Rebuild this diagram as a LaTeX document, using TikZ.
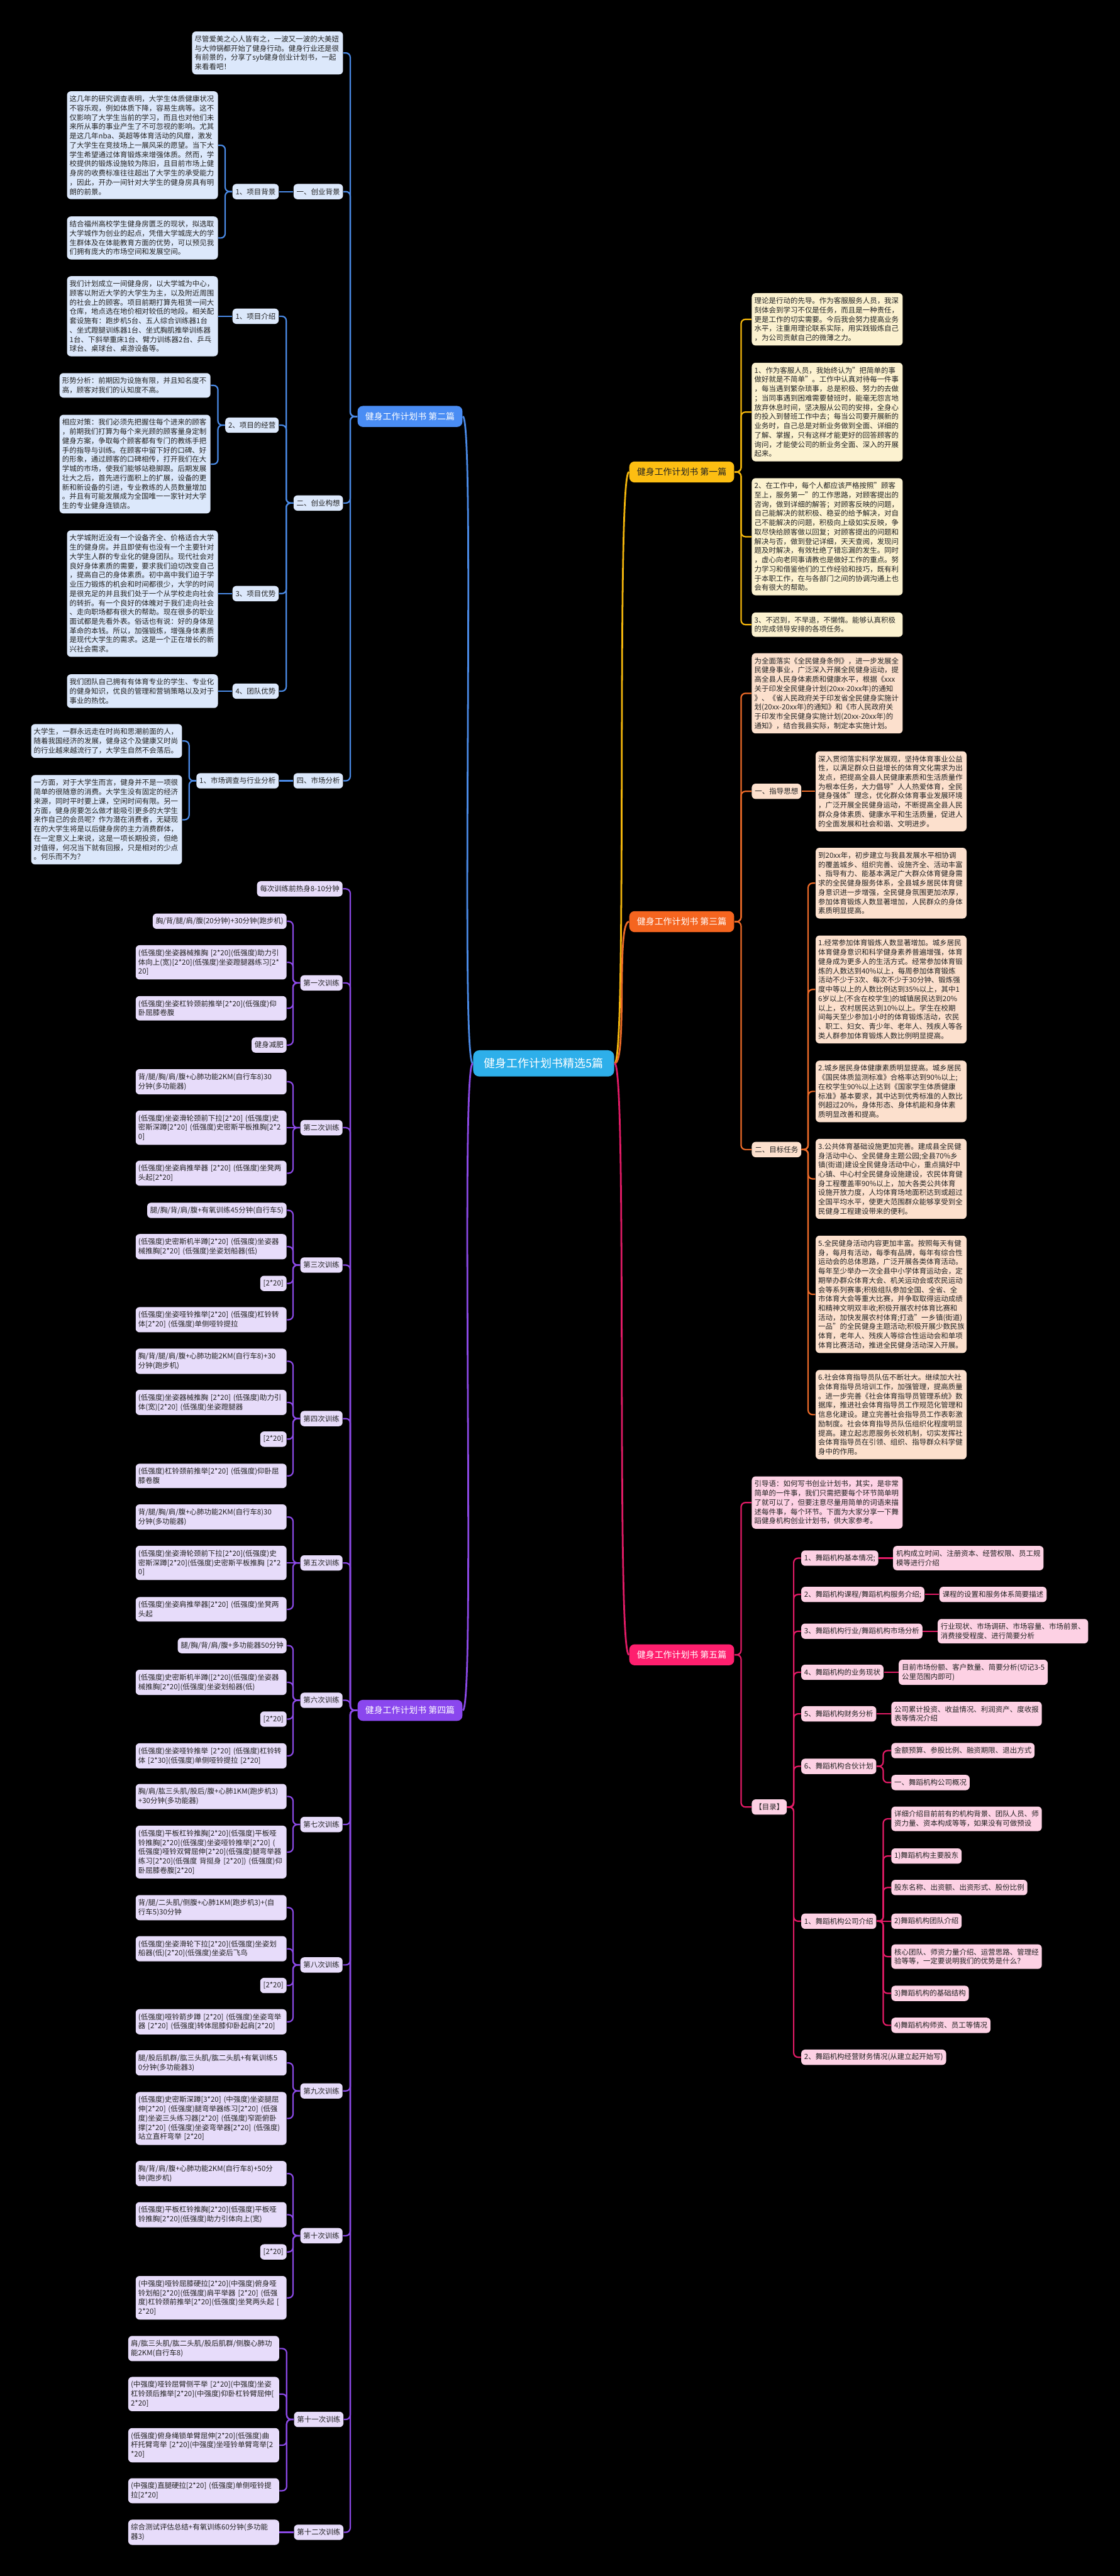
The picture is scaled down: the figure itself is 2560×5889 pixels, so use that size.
\documentclass[tikz,border=0pt]{standalone}
\usepackage{fontspec}
\setmainfont{Noto Sans CJK SC}
\usetikzlibrary{calc}
\definecolor{cenC}{HTML}{2EAFEA}
\definecolor{bRoot}{HTML}{4A8DF4}
\definecolor{bLine}{HTML}{4A8AE6}
\definecolor{bFill}{HTML}{DCE8FB}
\definecolor{yRoot}{HTML}{FDBE12}
\definecolor{yLine}{HTML}{F2B50C}
\definecolor{yFill}{HTML}{FCF2D0}
\definecolor{oRoot}{HTML}{F5651F}
\definecolor{oLine}{HTML}{EC6A28}
\definecolor{oFill}{HTML}{FCE0CD}
\definecolor{pRoot}{HTML}{FF1F6E}
\definecolor{pLine}{HTML}{E21B66}
\definecolor{pFill}{HTML}{FDD1E4}
\definecolor{uRoot}{HTML}{8A47EE}
\definecolor{uLine}{HTML}{8B49E6}
\definecolor{uFill}{HTML}{E7DCFA}
\definecolor{txtc}{HTML}{222222}
\newcommand{\conL}[3]{\draw[#1] (#2.west) -- ++(-16,0) |- (#3.east);}
\newcommand{\conR}[3]{\draw[#1] (#2.east) -- ++(15,0) |- (#3.west);}
\tikzset{
  txtbase/.style={rounded corners=2.2pt, inner xsep=1.5pt, inner ysep=2.4pt,
    font=\fontsize{4.125pt}{5.3pt}\selectfont, text=txtc, align=left},
  bodyB/.style={txtbase, fill=bFill, text width=83.25pt},
  bodyY/.style={txtbase, fill=yFill, text width=83.25pt},
  bodyO/.style={txtbase, fill=oFill, text width=83.25pt},
  bodyP/.style={txtbase, fill=pFill, text width=83.25pt},
  bodyU/.style={txtbase, fill=uFill, text width=83.25pt},
  labB/.style={txtbase, fill=bFill, minimum height=8.75pt, inner xsep=1.75pt, inner ysep=1pt},
  labO/.style={txtbase, fill=oFill, minimum height=8.75pt, inner xsep=1.75pt, inner ysep=1pt},
  labP/.style={txtbase, fill=pFill, minimum height=8.75pt, inner xsep=1.75pt, inner ysep=1pt},
  labU/.style={txtbase, fill=uFill, minimum height=8.75pt, inner xsep=1.75pt, inner ysep=1pt},
  boxP/.style={txtbase, fill=pFill, inner xsep=1.75pt},
  rootN/.style={rounded corners=3pt, inner xsep=4.4pt, minimum height=12pt,
    font=\fontsize{5pt}{6pt}\selectfont},
  cen/.style={rounded corners=3.5pt, fill=cenC, text=white, inner xsep=6pt,
    minimum height=15pt, font=\fontsize{6.5pt}{7.5pt}\selectfont},
  ln/.style={line width=0.8pt, rounded corners=2.5pt},
  lnB/.style={ln, draw=bLine}, lnY/.style={ln, draw=yLine}, lnO/.style={ln, draw=oLine},
  lnP/.style={ln, draw=pLine}, lnU/.style={ln, draw=uLine},
  mainC/.style={line width=1pt}
}
\begin{document}
\begin{tikzpicture}[x=0.25pt,y=-0.25pt]
\useasboundingbox (0,0) rectangle (2560,5889);
\fill[black] (0,0) rectangle (2560,5889);

% ---------------- centre and branch roots
\node[cen] (c) at (1243,2431) {健身工作计划书精选5篇};
\node[rootN, fill=yRoot, text=txtc, anchor=west] (r1) at (1438,1079) {健身工作计划书 第一篇};
\node[rootN, fill=bRoot, text=white, anchor=east] (r2) at (1058,952) {健身工作计划书 第二篇};
\node[rootN, fill=oRoot, text=white, anchor=west] (r3) at (1438,2107) {健身工作计划书 第三篇};
\node[rootN, fill=uRoot, text=white, anchor=east] (r4) at (1058,3910) {健身工作计划书 第四篇};
\node[rootN, fill=pRoot, text=white, anchor=west] (r5) at (1438,3783) {健身工作计划书 第五篇};

\draw[mainC, draw=yLine] (c.east) .. controls +(30,0) and +(-30,0) .. (r1.west);
\draw[mainC, draw=oLine] (c.east) .. controls +(30,0) and +(-30,0) .. (r3.west);
\draw[mainC, draw=pLine] (c.east) .. controls +(30,0) and +(-30,0) .. (r5.west);
\draw[mainC, draw=bLine] (c.west) .. controls +(-30,0) and +(30,0) .. (r2.east);
\draw[mainC, draw=uLine] (c.west) .. controls +(-30,0) and +(30,0) .. (r4.east);

% ---------------- branch 2 (blue)
\node[bodyB, anchor=east] (b2i) at (785,121) {尽管爱美之心人皆有之，一波又一波的大美妞\\与大帅锅都开始了健身行动。健身行业还是很\\有前景的，分享了syb健身创业计划书，一起\\来看看吧！};
\node[labB, anchor=east] (b2s1) at (785,438) {一、创业背景};
\node[labB, anchor=east] (b2s1a) at (638,438) {1、项目背景};
\node[bodyB, anchor=east] (b2s1a1) at (499,332) {这几年的研究调查表明，大学生体质健康状况\\不容乐观，例如体质下降，容易生病等。这不\\仅影响了大学生当前的学习，而且也对他们未\\来所从事的事业产生了不可忽视的影响。尤其\\是这几年nba、英超等体育活动的风靡，激发\\了大学生在竞技场上一展风采的愿望。当下大\\学生希望通过体育锻炼来增强体质。然而，学\\校提供的锻炼设施较为陈旧，且目前市场上健\\身房的收费标准往往超出了大学生的承受能力\\，因此，开办一间针对大学生的健身房具有明\\朗的前景。};
\node[bodyB, anchor=east] (b2s1a2) at (499,544) {结合福州高校学生健身房匮乏的现状，拟选取\\大学城作为创业的起点，凭借大学城庞大的学\\生群体及在体能教育方面的优势，可以预见我\\们拥有庞大的市场空间和发展空间。};
\node[labB, anchor=east] (b2s2) at (785,1150) {二、创业构想};
\node[labB, anchor=east] (b2s2a) at (638,723) {1、项目介绍};
\node[bodyB, anchor=east] (b2s2a1) at (499,723) {我们计划成立一间健身房，以大学城为中心，\\顾客以附近大学的大学生为主，以及附近周围\\的社会上的顾客。项目前期打算先租赁一间大\\仓库，地点选在地价相对较低的地段。相关配\\套设施有：跑步机5台、五人综合训练器1台\\、坐式蹬腿训练器1台、坐式胸肌推举训练器\\1台、下斜举重床1台、臂力训练器2台、乒乓\\球台、桌球台、桌游设备等。};
\node[labB, anchor=east] (b2s2b) at (638,972) {2、项目的经营};
\node[bodyB, anchor=east] (b2s2b1) at (482,881) {形势分析：前期因为设施有限，并且知名度不\\高，顾客对我们的认知度不高。};
\node[bodyB, anchor=east] (b2s2b2) at (482,1061) {相应对策：我们必须先把握住每个进来的顾客\\，前期我们打算为每个来光顾的顾客量身定制\\健身方案，争取每个顾客都有专门的教练手把\\手的指导与训练。在顾客中留下好的口碑、好\\的形象，通过顾客的口碑相传，打开我们在大\\学城的市场，使我们能够站稳脚跟。后期发展\\壮大之后，首先进行面积上的扩展，设备的更\\新和新设备的引进，专业教练的人员数量增加\\。并且有可能发展成为全国唯一一家针对大学\\生的专业健身连锁店。};
\node[labB, anchor=east] (b2s2c) at (638,1357) {3、项目优势};
\node[bodyB, anchor=east] (b2s2c1) at (499,1357) {大学城附近没有一个设备齐全、价格适合大学\\生的健身房。并且即使有也没有一个主要针对\\大学生人群的专业化的健身团队。现代社会对\\良好身体素质的需要，要求我们迫切改变自己\\，提高自己的身体素质。初中高中我们迫于学\\业压力锻炼的机会和时间都很少，大学的时间\\是很充足的并且我们处于一个从学校走向社会\\的转折。有一个良好的体魄对于我们走向社会\\、走向职场都有很大的帮助。现在很多的职业\\面试都是先看外表。俗话也有说：好的身体是\\革命的本钱。所以，加强锻炼，增强身体素质\\是现代大学生的需求。这是一个正在增长的新\\兴社会需求。};
\node[labB, anchor=east] (b2s2d) at (638,1580) {4、团队优势};
\node[bodyB, anchor=east] (b2s2d1) at (499,1580) {我们团队自己拥有有体育专业的学生、专业化\\的健身知识，优良的管理和营销策略以及对于\\事业的热忱。};
\node[labB, anchor=east] (b2s4) at (785,1785) {四、市场分析};
\node[labB, anchor=east] (b2s4a) at (638,1785) {1、市场调查与行业分析};
\node[bodyB, anchor=east] (b2s4a1) at (417,1694) {大学生，一群永远走在时尚和思潮前面的人，\\随着我国经济的发展，健身这个及健康又时尚\\的行业越来越流行了，大学生自然不会落后。};
\node[bodyB, anchor=east] (b2s4a2) at (417,1874) {一方面，对于大学生而言，健身并不是一项很\\简单的很随意的消费。大学生没有固定的经济\\来源，同时平时要上课，空闲时间有限。另一\\方面，健身房要怎么做才能吸引更多的大学生\\来作自己的会员呢？作为潜在消费者，无疑现\\在的大学生将是以后健身房的主力消费群体，\\在一定意义上来说，这是一项长期投资，但绝\\对值得，何况当下就有回报，只是相对的少点\\。何乐而不为？};

\foreach \c in {b2i,b2s1,b2s2,b2s4} {\conL{lnB}{r2}{\c}}
\draw[lnB] (b2s1.west) -- (b2s1a.east);
\foreach \c in {b2s1a1,b2s1a2} {\conL{lnB}{b2s1a}{\c}}
\foreach \c in {b2s2a,b2s2b,b2s2c,b2s2d} {\conL{lnB}{b2s2}{\c}}
\draw[lnB] (b2s2a.west) -- (b2s2a1.east);
\foreach \c in {b2s2b1,b2s2b2} {\conL{lnB}{b2s2b}{\c}}
\draw[lnB] (b2s2c.west) -- (b2s2c1.east);
\draw[lnB] (b2s2d.west) -- (b2s2d1.east);
\draw[lnB] (b2s4.west) -- (b2s4a.east);
\foreach \c in {b2s4a1,b2s4a2} {\conL{lnB}{b2s4a}{\c}}

% ---------------- branch 1 (yellow)
\node[bodyY, anchor=west] (y1) at (1718,730) {理论是行动的先导。作为客服服务人员，我深\\刻体会到学习不仅是任务，而且是一种责任，\\更是工作的切实需要。今后我会努力提高业务\\水平，注重用理论联系实际，用实践锻炼自己\\，为公司贡献自己的微薄之力。};
\node[bodyY, anchor=west] (y2) at (1718,942) {1、作为客服人员，我始终认为"把简单的事\\做好就是不简单"。工作中认真对待每一件事\\，每当遇到繁杂琐事，总是积极、努力的去做\\；当同事遇到困难需要替班时，能毫无怨言地\\放弃休息时间，坚决服从公司的安排，全身心\\的投入到替班工作中去；每当公司要开展新的\\业务时，自己总是对新业务做到全面、详细的\\了解、掌握，只有这样才能更好的回答顾客的\\询问，才能使公司的新业务全面、深入的开展\\起来。};
\node[bodyY, anchor=west] (y3) at (1718,1227) {2、在工作中，每个人都应该严格按照"顾客\\至上，服务第一"的工作思路，对顾客提出的\\咨询，做到详细的解答；对顾客反映的问题，\\自己能解决的就积极、稳妥的给予解决，对自\\己不能解决的问题，积极向上级如实反映，争\\取尽快给顾客做以回复；对顾客提出的问题和\\解决与否，做到登记详细，天天查阅，发现问\\题及时解决，有效杜绝了错忘漏的发生。同时\\，虚心向老同事请教也是做好工作的重点。努\\力学习和借鉴他们的工作经验和技巧，既有利\\于本职工作，在与各部门之间的协调沟通上也\\会有很大的帮助。};
\node[bodyY, anchor=west] (y4) at (1718,1428) {3、不迟到，不早退，不懒惰。能够认真积极\\的完成领导安排的各项任务。};
\foreach \c in {y1,y2,y3,y4} {\conR{lnY}{r1}{\c}}

% ---------------- branch 3 (orange)
\node[bodyO, anchor=west] (o0) at (1718,1585) {为全面落实《全民健身条例》，进一步发展全\\民健身事业，广泛深入开展全民健身运动，提\\高全县人民身体素质和健康水平，根据《xxx\\关于印发全民健身计划(20xx-20xx年)的通知\\》、《省人民政府关于印发省全民健身实施计\\划(20xx-20xx年)的通知》和《市人民政府关\\于印发市全民健身实施计划(20xx-20xx年)的\\通知》，结合我县实际，制定本实施计划。};
\node[labO, anchor=west] (o1) at (1718,1809) {一、指导思想};
\node[bodyO, anchor=west] (o1a) at (1864,1809) {深入贯彻落实科学发展观，坚持体育事业公益\\性，以满足群众日益增长的体育文化需求为出\\发点，把提高全县人民健康素质和生活质量作\\为根本任务，大力倡导"人人热爱体育，全民\\健身强体"理念，优化群众体育事业发展环境\\，广泛开展全民健身运动，不断提高全县人民\\群众身体素质、健康水平和生活质量，促进人\\的全面发展和社会和谐、文明进步。};
\node[labO, anchor=west] (o2) at (1718,2628) {二、目标任务};
\node[bodyO, anchor=west] (o2a) at (1864,2019) {到20xx年，初步建立与我县发展水平相协调\\的覆盖城乡、组织完善、设施齐全、活动丰富\\、指导有力、能基本满足广大群众体育健身需\\求的全民健身服务体系，全县城乡居民体育健\\身意识进一步增强，全民健身氛围更加浓厚，\\参加体育锻炼人数显著增加，人民群众的身体\\素质明显提高。};
\node[bodyO, anchor=west] (o2b) at (1864,2262) {1.经常参加体育锻炼人数显著增加。城乡居民\\体育健身意识和科学健身素养普遍增强，体育\\健身成为更多人的生活方式。经常参加体育锻\\炼的人数达到40\%以上，每周参加体育锻炼\\活动不少于3次、每次不少于30分钟、锻炼强\\度中等以上的人数比例达到35\%以上，其中1\\6岁以上(不含在校学生)的城镇居民达到20\%\\以上，农村居民达到10\%以上。学生在校期\\间每天至少参加1小时的体育锻炼活动，农民\\、职工、妇女、青少年、老年人、残疾人等各\\类人群参加体育锻炼人数比例明显提高。};
\node[bodyO, anchor=west] (o2c) at (1864,2495) {2.城乡居民身体健康素质明显提高。城乡居民\\《国民体质监测标准》合格率达到90\%以上;\\在校学生90\%以上达到《国家学生体质健康\\标准》基本要求，其中达到优秀标准的人数比\\例超过20\%，身体形态、身体机能和身体素\\质明显改善和提高。};
\node[bodyO, anchor=west] (o2d) at (1864,2695) {3.公共体育基础设施更加完善。建成县全民健\\身活动中心、全民健身主题公园;全县70\%乡\\镇(街道)建设全民健身活动中心，重点搞好中\\心镇、中心村全民健身设施建设，农民体育健\\身工程覆盖率90\%以上，加大各类公共体育\\设施开放力度，人均体育场地面积达到或超过\\全国平均水平，使更大范围群众能够享受到全\\民健身工程建设带来的便利。};
\node[bodyO, anchor=west] (o2e) at (1864,2959) {5.全民健身活动内容更加丰富。按照每天有健\\身，每月有活动，每季有品牌，每年有综合性\\运动会的总体思路，广泛开展各类体育活动。\\每年至少举办一次全县中小学体育运动会，定\\期举办群众体育大会、机关运动会或农民运动\\会等系列赛事;积极组队参加全国、全省、全\\市体育大会等重大比赛，并争取取得运动成绩\\和精神文明双丰收;积极开展农村体育比赛和\\活动，加快发展农村体育;打造"一乡镇(街道)\\一品"的全民健身主题活动;积极开展少数民族\\体育，老年人、残疾人等综合性运动会和单项\\体育比赛活动，推进全民健身活动深入开展。};
\node[bodyO, anchor=west] (o2f) at (1864,3234) {6.社会体育指导员队伍不断壮大。继续加大社\\会体育指导员培训工作，加强管理，提高质量\\。进一步完善《社会体育指导员管理系统》数\\据库，推进社会体育指导员工作规范化管理和\\信息化建设。建立完善社会指导员工作表彰激\\励制度。社会体育指导员队伍组织化程度明显\\提高。建立起志愿服务长效机制，切实发挥社\\会体育指导员在引领、组织、指导群众科学健\\身中的作用。};
\foreach \c in {o0,o1,o2} {\conR{lnO}{r3}{\c}}
\draw[lnO] (o1.east) -- (o1a.west);
\foreach \c in {o2a,o2b,o2c,o2d,o2e,o2f} {\conR{lnO}{o2}{\c}}

% ---------------- branch 5 (pink)
\node[bodyP, anchor=west] (p0) at (1718,3435) {引导语：如何写书创业计划书，其实，是非常\\简单的一件事，我们只需把要每个环节简单明\\了就可以了，但要注意尽量用简单的词语来描\\述每件事，每个环节。下面为大家分享一下舞\\蹈健身机构创业计划书，供大家参考。};
\node[labP, anchor=west] (pm) at (1718,4131) {【目录】};
\node[labP, anchor=west] (p1) at (1831,3562) {1、舞蹈机构基本情况;};
\node[boxP, anchor=west] (p1c) at (2041,3562) {机构成立时间、注册资本、经营权限、员工规\\模等进行介绍};
\node[labP, anchor=west] (p2) at (1831,3645) {2、舞蹈机构课程/舞蹈机构服务介绍;};
\node[labP, anchor=west] (p2c) at (2147,3645) {课程的设置和服务体系简要描述};
\node[labP, anchor=west] (p3) at (1831,3729) {3、舞蹈机构行业/舞蹈机构市场分析};
\node[boxP, anchor=west] (p3c) at (2143,3729) {行业现状、市场调研、市场容量、市场前景、\\消费接受程度、进行简要分析};
\node[labP, anchor=west] (p4) at (1831,3823) {4、舞蹈机构的业务现状};
\node[boxP, anchor=west] (p4c) at (2054,3823) {目前市场份额、客户数量、简要分析(切记3-5\\公里范围内即可)};
\node[labP, anchor=west] (p5) at (1831,3918) {5、舞蹈机构财务分析};
\node[boxP, anchor=west] (p5c) at (2037,3918) {公司累计投资、收益情况、利润资产、度收报\\表等情况介绍};
\node[labP, anchor=west] (p6) at (1831,4038) {6、舞蹈机构合伙计划};
\node[labP, anchor=west] (p6a) at (2037,4002) {金额预算、参股比例、融资期限、退出方式};
\node[labP, anchor=west] (p6b) at (2037,4075) {一、舞蹈机构公司概况};
\node[labP, anchor=west] (p7) at (1831,4392) {1、舞蹈机构公司介绍};
\node[boxP, anchor=west] (q1) at (2037,4158) {详细介绍目前前有的机构背景、团队人员、师\\资力量、资本构成等等，如果没有可做预设};
\node[labP, anchor=west] (q2) at (2037,4243) {1)舞蹈机构主要股东};
\node[labP, anchor=west] (q3) at (2037,4315) {股东名称、出资额、出资形式、股份比例};
\node[labP, anchor=west] (q4) at (2037,4392) {2)舞蹈机构团队介绍};
\node[boxP, anchor=west] (q5) at (2037,4473) {核心团队、师资力量介绍、运营思路、管理经\\验等等，一定要说明我们的优势是什么？};
\node[labP, anchor=west] (q6) at (2037,4557) {3)舞蹈机构的基础结构};
\node[labP, anchor=west] (q7) at (2037,4630) {4)舞蹈机构师资、员工等情况};
\node[labP, anchor=west] (p8) at (1831,4703) {2、舞蹈机构经营财务情况(从建立起开始写)};
\foreach \c in {p0,pm} {\conR{lnP}{r5}{\c}}
\foreach \c in {p1,p2,p3,p4,p5,p6,p7,p8} {\conR{lnP}{pm}{\c}}
\draw[lnP] (p1.east) -- (p1c.west);
\draw[lnP] (p2.east) -- (p2c.west);
\draw[lnP] (p3.east) -- (p3c.west);
\draw[lnP] (p4.east) -- (p4c.west);
\draw[lnP] (p5.east) -- (p5c.west);
\foreach \c in {p6a,p6b} {\conR{lnP}{p6}{\c}}
\foreach \c in {q1,q2,q3,q5,q6,q7} {\conR{lnP}{p7}{\c}}
\draw[lnP] (p7.east) -- (q4.west);

% ---------------- branch 4 (purple)
\node[labU, anchor=east] (u0) at (784,2032) {每次训练前热身8-10分钟};
\node[labU, anchor=east] (w1) at (784,2247) {第一次训练};
\node[labU, anchor=east] (w1a) at (656,2106) {胸/背/腿/肩/腹(20分钟)+30分钟(跑步机)};
\node[bodyU, anchor=east] (w1b) at (656,2200) {(低强度)坐姿器械推胸 [2*20](低强度)助力引\\体向上(宽)[2*20](低强度)坐姿蹬腿器练习[2*\\20]};
\node[bodyU, anchor=east] (w1c) at (656,2305) {(低强度)坐姿杠铃颈前推举[2*20](低强度)仰\\卧屈膝卷腹};
\node[labU, anchor=east] (w1d) at (656,2389) {健身减肥};
\node[labU, anchor=east] (w2) at (784,2578) {第二次训练};
\node[bodyU, anchor=east] (w2a) at (656,2473) {背/腿/胸/肩/腹+心肺功能2KM(自行车8)30\\分钟(多功能器)};
\node[bodyU, anchor=east] (w2b) at (656,2578) {(低强度)坐姿滑轮颈前下拉[2*20] (低强度)史\\密斯深蹲[2*20] (低强度)史密斯平板推胸[2*2\\0]};
\node[bodyU, anchor=east] (w2c) at (656,2682) {(低强度)坐姿肩推举器 [2*20] (低强度)坐凳两\\头起[2*20]};
\node[labU, anchor=east] (w3) at (784,2892) {第三次训练};
\node[labU, anchor=east] (w3a) at (656,2767) {腿/胸/背/肩/腹+有氧训练45分钟(自行车5)};
\node[bodyU, anchor=east] (w3b) at (656,2850) {(低强度)史密斯机半蹲[2*20] (低强度)坐姿器\\械推胸[2*20] (低强度)坐姿划船器(低)};
\node[labU, anchor=east] (w3c) at (656,2934) {[2*20]};
\node[bodyU, anchor=east] (w3d) at (656,3017) {(低强度)坐姿哑铃推举[2*20] (低强度)杠铃转\\体[2*20] (低强度)单侧哑铃提拉};
\node[labU, anchor=east] (w4) at (784,3243) {第四次训练};
\node[bodyU, anchor=east] (w4a) at (656,3112) {胸/背/腿/肩/腹+心肺功能2KM(自行车8)+30\\分钟(跑步机)};
\node[bodyU, anchor=east] (w4b) at (656,3206) {(低强度)坐姿器械推胸 [2*20] (低强度)助力引\\体(宽)[2*20] (低强度)坐姿蹬腿器};
\node[labU, anchor=east] (w4c) at (656,3290) {[2*20]};
\node[bodyU, anchor=east] (w4d) at (656,3374) {(低强度)杠铃颈前推举[2*20] (低强度)仰卧屈\\膝卷腹};
\node[labU, anchor=east] (w5) at (784,3573) {第五次训练};
\node[bodyU, anchor=east] (w5a) at (656,3468) {背/腿/胸/肩/腹+心肺功能2KM(自行车8)30\\分钟(多功能器)};
\node[bodyU, anchor=east] (w5b) at (656,3573) {(低强度)坐姿滑轮颈前下拉[2*20](低强度)史\\密斯深蹲[2*20](低强度)史密斯平板推胸 [2*2\\0]};
\node[bodyU, anchor=east] (w5c) at (656,3679) {(低强度)坐姿肩推举器[2*20] (低强度)坐凳两\\头起};
\node[labU, anchor=east] (w6) at (784,3887) {第六次训练};
\node[labU, anchor=east] (w6a) at (656,3762) {腿/胸/背/肩/腹+多功能器50分钟};
\node[bodyU, anchor=east] (w6b) at (656,3846) {(低强度)史密斯机半蹲([2*20](低强度)坐姿器\\械推胸[2*20](低强度)坐姿划船器(低)};
\node[labU, anchor=east] (w6c) at (656,3930) {[2*20]};
\node[bodyU, anchor=east] (w6d) at (656,4014) {(低强度)坐姿哑铃推举 [2*20] (低强度)杠铃转\\体 [2*30](低强度)单侧哑铃提拉 [2*20]};
\node[labU, anchor=east] (w7) at (784,4171) {第七次训练};
\node[bodyU, anchor=east] (w7a) at (656,4107) {胸/肩/肱三头肌/股后/腹+心肺1KM(跑步机3)\\+30分钟(多功能器)};
\node[bodyU, anchor=east] (w7b) at (656,4234) {(低强度)平板杠铃推胸[2*20](低强度)平板哑\\铃推胸[2*20](低强度)坐姿哑铃推举[2*20] (\\低强度)哑铃双臂屈伸[2*20](低强度)腿弯举器\\练习[2*20](低强度 背挺身 [2*20]) (低强度)仰\\卧屈膝卷腹[2*20]};
\node[labU, anchor=east] (w8) at (784,4492) {第八次训练};
\node[bodyU, anchor=east] (w8a) at (656,4361) {背/腿/二头肌/侧腹+心肺1KM(跑步机3)+(自\\行车5)30分钟};
\node[bodyU, anchor=east] (w8b) at (656,4455) {(低强度)坐姿滑轮下拉[2*20](低强度)坐姿划\\船器(低)[2*20](低强度)坐姿后飞鸟};
\node[labU, anchor=east] (w8c) at (656,4539) {[2*20]};
\node[bodyU, anchor=east] (w8d) at (656,4622) {(低强度)哑铃箭步蹲 [2*20] (低强度)坐姿弯举\\器 [2*20] (低强度)转体屈膝仰卧起肩[2*20]};
\node[labU, anchor=east] (w9) at (784,4780) {第九次训练};
\node[bodyU, anchor=east] (w9a) at (656,4716) {腿/股后肌群/肱三头肌/肱二头肌+有氧训练5\\0分钟(多功能器3)};
\node[bodyU, anchor=east] (w9b) at (656,4843) {(低强度)史密斯深蹲[3*20] (中强度)坐姿腿屈\\伸[2*20] (低强度)腿弯举器练习[2*20] (低强\\度)坐姿三头练习器[2*20] (低强度)窄距俯卧\\撑[2*20] (低强度)坐姿弯举器[2*20] (低强度)\\站立直杆弯举 [2*20]};
\node[labU, anchor=east] (w10) at (784,5111) {第十次训练};
\node[bodyU, anchor=east] (w10a) at (656,4969) {胸/背/肩/腹+心肺功能2KM(自行车8)+50分\\钟(跑步机)};
\node[bodyU, anchor=east] (w10b) at (656,5063) {(低强度)平板杠铃推胸[2*20](低强度)平板哑\\铃推胸[2*20](低强度)助力引体向上(宽)};
\node[labU, anchor=east] (w10c) at (656,5148) {[2*20]};
\node[bodyU, anchor=east] (w10d) at (656,5253) {(中强度)哑铃屈膝硬拉[2*20](中强度)俯身哑\\铃划船[2*20](低强度)肩平举器 [2*20] (低强\\度)杠铃颈前推举[2*20](低强度)坐凳两头起 [\\2*20]};
\node[labU, anchor=east] (w11) at (786,5531) {第十一次训练};
\node[bodyU, anchor=east] (w11a) at (639,5369) {肩/肱三头肌/肱二头肌/股后肌群/侧腹心肺功\\能2KM(自行车8)};
\node[bodyU, anchor=east] (w11b) at (639,5473) {(中强度)哑铃屈臂侧平举 [2*20](中强度)坐姿\\杠铃颈后推举[2*20](中强度)仰卧杠铃臂屈伸[\\2*20]};
\node[bodyU, anchor=east] (w11c) at (639,5590) {(低强度)俯身绳锁单臂屈伸[2*20](低强度)曲\\杆托臂弯举 [2*20](中强度)坐哑铃单臂弯举[2\\{}*20]};
\node[bodyU, anchor=east] (w11d) at (639,5694) {(中强度)直腿硬拉[2*20] (低强度)单侧哑铃提\\拉[2*20]};
\node[labU, anchor=east] (w12) at (786,5789) {第十二次训练};
\node[bodyU, anchor=east] (w12a) at (639,5789) {综合测试评估总结+有氧训练60分钟(多功能\\器3)};

\foreach \c in {u0,w1,w2,w3,w4,w5,w6,w7,w8,w9,w10,w11,w12} {\conL{lnU}{r4}{\c}}
\foreach \c in {w1a,w1b,w1c,w1d} {\conL{lnU}{w1}{\c}}
\foreach \c in {w2a,w2c} {\conL{lnU}{w2}{\c}}
\draw[lnU] (w2.west) -- (w2b.east);
\foreach \c in {w3a,w3b,w3c,w3d} {\conL{lnU}{w3}{\c}}
\foreach \c in {w4a,w4b,w4c,w4d} {\conL{lnU}{w4}{\c}}
\foreach \c in {w5a,w5c} {\conL{lnU}{w5}{\c}}
\draw[lnU] (w5.west) -- (w5b.east);
\foreach \c in {w6a,w6b,w6c,w6d} {\conL{lnU}{w6}{\c}}
\foreach \c in {w7a,w7b} {\conL{lnU}{w7}{\c}}
\foreach \c in {w8a,w8b,w8c,w8d} {\conL{lnU}{w8}{\c}}
\foreach \c in {w9a,w9b} {\conL{lnU}{w9}{\c}}
\foreach \c in {w10a,w10b,w10c,w10d} {\conL{lnU}{w10}{\c}}
\foreach \c in {w11a,w11b,w11c,w11d} {\conL{lnU}{w11}{\c}}
\draw[lnU] (w12.west) -- (w12a.east);
\end{tikzpicture}
\end{document}
